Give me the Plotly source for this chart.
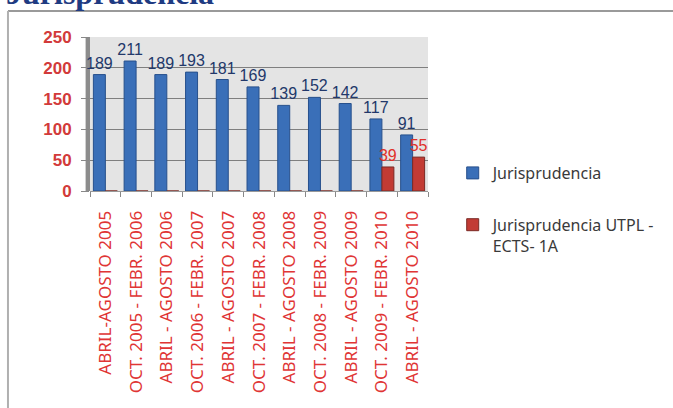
import plotly.graph_objects as go

periodos = [
    "ABRIL-AGOSTO 2005",
    "OCT. 2005 - FEBR. 2006",
    "ABRIL - AGOSTO 2006",
    "OCT. 2006 - FEBR. 2007",
    "ABRIL - AGOSTO 2007",
    "OCT. 2007 - FEBR. 2008",
    "ABRIL - AGOSTO 2008",
    "OCT. 2008 - FEBR. 2009",
    "ABRIL - AGOSTO 2009",
    "OCT. 2009 - FEBR. 2010",
    "ABRIL - AGOSTO 2010",
]
jurisprudencia = [189, 211, 189, 193, 181, 169, 139, 152, 142, 117, 91]
jurisprudencia_utpl = [0, 0, 0, 0, 0, 0, 0, 0, 0, 39, 55]
y_ticks = [0, 50, 100, 150, 200, 250]

W, H = 673, 408
L, R, T, B = 90, 432, 37, 191


def px_x(p):
    return (p - L) / (R - L)


def px_y(p):
    return (B - p) / (B - T)


fig = go.Figure()
fig.add_trace(go.Bar(
    x=periodos, y=jurisprudencia, name="Jurisprudencia",
    marker=dict(color="#3a6fb8", line=dict(color="#27508c", width=1)),
    text=[str(v) for v in jurisprudencia], textposition="outside", constraintext="none",
    textfont=dict(family="Liberation Sans Narrow, Arial Narrow, sans-serif", size=16, color="#22386a"),
    cliponaxis=False, legendgroup="a",
))
fig.add_trace(go.Bar(
    x=periodos, y=jurisprudencia_utpl, name="Jurisprudencia UTPL -<br>ECTS- 1A",
    marker=dict(color="#c23b34", line=dict(color="#7a2a25", width=1)),
    text=[str(v) if v else "" for v in jurisprudencia_utpl], textposition="outside", constraintext="none",
    textfont=dict(family="Liberation Sans Narrow, Arial Narrow, sans-serif", size=16, color="#e0302a"),
    cliponaxis=False, legendgroup="b",
))

fig.update_layout(
    width=W, height=H,
    margin=dict(l=L, r=W - R, t=T, b=H - B),
    barmode="group", bargap=0.22, bargroupgap=0,
    paper_bgcolor="white", plot_bgcolor="#e4e4e4",
    font=dict(family="Noto Sans, sans-serif"),
    showlegend=True,
    legend=dict(
        x=px_x(457), y=px_y(156), xanchor="left", yanchor="top",
        font=dict(family="Noto Sans, sans-serif", size=16, color="#3a3a3a"),
        tracegroupgap=28, valign="top", itemwidth=30,
    ),
)
fig.update_xaxes(
    tickangle=-90, showgrid=False, ticks="outside", ticklen=5, tickcolor="#888",
    tickson="boundaries", ticklabelstandoff=12,
    tickfont=dict(size=17, color="#e03535"), showline=True, linecolor="#999",
)
fig.update_yaxes(
    range=[0, 250], tickvals=y_ticks, showgrid=True, gridcolor="#7f7f7f", gridwidth=1,
    ticks="outside", ticklen=8, tickcolor="#888", ticklabelstandoff=6,
    tickfont=dict(family="Liberation Sans, Arial, sans-serif", size=17, color="#d23a3a", weight="bold"),
    showline=False, zeroline=False,
)

# side wall of the 3d plot
fig.add_shape(type="rect", xref="paper", yref="paper", x0=-0.013, x1=0, y0=0, y1=1,
              fillcolor="#8c8c8c", line=dict(width=0), layer="below")
# outer frame
fig.add_shape(type="line", xref="paper", yref="paper", x0=px_x(7), x1=px_x(W + 10), y0=px_y(11), y1=px_y(11),
              line=dict(color="#9a9a9a", width=2))
fig.add_shape(type="line", xref="paper", yref="paper", x0=px_x(7), x1=px_x(7), y0=px_y(11), y1=px_y(H + 10),
              line=dict(color="#b0b0b0", width=2))

# title, cut off at the top of the image
fig.add_annotation(
    text="<b>Jurisprudencia</b>", xref="paper", yref="paper",
    x=px_x(3), y=px_y(13), xanchor="left", yanchor="bottom", showarrow=False,
    font=dict(family="Liberation Serif, Times New Roman, serif", size=32, color="#1f3b82"),
)

# drop the browser's default body margin so the figure sits at the page corner
fig.write_html("out.html", config={"displayModeBar": False},
               post_script="document.body.style.margin = '0';")
